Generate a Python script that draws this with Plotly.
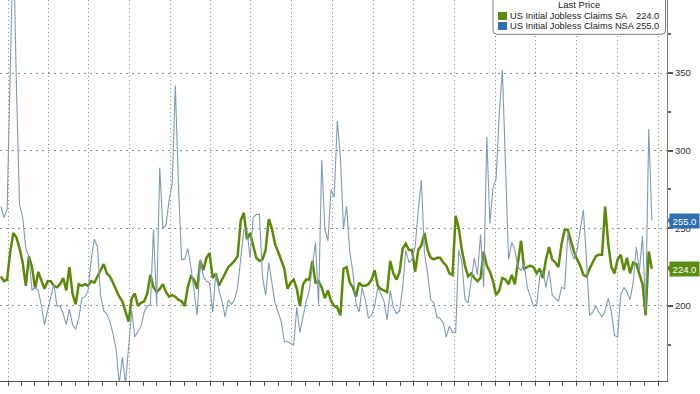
import plotly.graph_objects as go
import pandas as pd

# ---------------- data (weekly initial jobless claims, thousands) ----------------
last_release = "2025-12-18"
series_names = ["US Initial Jobless Claims SA", "US Initial Jobless Claims NSA"]
legend_header = "Last Price"

sa_values = [
    219, 216, 217, 235, 247, 244, 237, 228, 213, 232,
    225, 211, 222, 216, 211, 216, 216, 213, 212, 214,
    218, 210, 225, 208, 201, 214, 213, 214, 213, 216,
    215, 219, 223, 227, 221, 219, 215, 210, 206, 203,
    196, 190, 205, 208, 200, 202, 203, 208, 220, 212,
    209, 211, 214, 209, 206, 207, 206, 204, 203, 200,
    212, 219, 217, 211, 229, 223, 231, 234, 218, 221,
    213, 217, 221, 225, 227, 229, 232, 255, 260, 243,
    247, 238, 231, 229, 230, 236, 256, 250, 240, 235,
    229, 224, 211, 215, 217, 211, 200, 214, 217, 217,
    229, 215, 216, 212, 205, 210, 203, 200, 199, 194,
    224, 225, 215, 212, 206, 215, 213, 213, 214, 217,
    223, 213, 211, 210, 209, 229, 221, 217, 222, 237,
    240, 236, 236, 222, 236, 239, 247, 236, 231, 230,
    231, 231, 228, 226, 221, 220, 258, 250, 236, 226,
    219, 221, 218, 216, 218, 235, 226, 222, 216, 207,
    210, 218, 217, 214, 220, 214, 229, 242, 224, 225,
    226, 225, 221, 224, 218, 230, 238, 230, 228, 225,
    240, 249, 249, 242, 235, 230, 226, 220, 219, 224,
    228, 232, 233, 233, 264, 240, 225, 221, 230, 233,
    223, 231, 221, 228, 227, 221, 214, 194, 235, 224,
]

nsa_values = [
    264, 257, 262, 344, 440, 340, 265, 257, 237, 232,
    210, 212, 210, 200, 188, 197, 205, 214, 200, 200,
    195, 188, 198, 188, 185, 192, 205, 206, 210, 230,
    243, 238, 207, 197, 195, 190, 182, 172, 150, 167,
    150, 174, 197, 180, 184, 187, 196, 200, 201, 249,
    201, 289, 250, 252, 268, 279, 342, 278, 230, 230,
    237, 225, 210, 194, 230, 219, 216, 215, 196, 221,
    210, 203, 193, 204, 201, 204, 212, 232, 249, 249,
    231, 257, 259, 259, 219, 207, 228, 215, 202, 196,
    190, 177, 177, 176, 175, 199, 183, 193, 203, 210,
    225, 241, 201, 294, 250, 242, 275, 270, 319, 296,
    250, 264, 235, 222, 202, 196, 212, 204, 192, 194,
    200, 212, 208, 203, 191, 210, 199, 195, 197, 212,
    236, 228, 230, 238, 262, 281, 234, 221, 204, 202,
    193, 192, 189, 180, 187, 183, 183, 236, 228, 204,
    202, 215, 231, 220, 246, 212, 309, 253, 276, 282,
    324, 352, 295, 230, 241, 236, 225, 223, 227, 212,
    206, 200, 200, 219, 223, 212, 223, 207, 205, 203,
    212, 211, 246, 236, 230, 236, 249, 262, 230, 194,
    196, 200, 196, 193, 197, 205, 196, 181, 180, 207,
    212, 209, 204, 215, 238, 223, 245, 197, 314, 255,
]

y_tick_values = [200, 250, 300, 350]

dates = pd.date_range(end=last_release, periods=len(sa_values), freq="7D")

# ---------------- styling ----------------
SA_LINE = "#5a8a06"
NSA_LINE = "#7d9bb8"
SA_BOX = "#5d8d10"
NSA_BOX = "#316fb0"
FONT = "Liberation Sans, Arial, sans-serif"

W, H = 700, 394
ML, MR, MT, MB = 0, 33, 0, 13
PW, PH = W - ML - MR, H - MT - MB
Y_RANGE = [151.7, 397.0]


def xp(px):
    return (px - ML) / PW


def yp(py):
    return 1 - (py - MT) / PH


def yval_to_paper(v):
    return (v - Y_RANGE[0]) / (Y_RANGE[1] - Y_RANGE[0])


fig = go.Figure()
fig.add_trace(go.Scatter(x=dates, y=sa_values, mode="lines", name=series_names[0],
                         line=dict(color=SA_LINE, width=2.5), showlegend=False))
fig.add_trace(go.Scatter(x=dates, y=nsa_values, mode="lines", name=series_names[1],
                         line=dict(color=NSA_LINE, width=1.1), showlegend=False))

fig.update_layout(
    width=W, height=H,
    margin=dict(l=ML, r=MR, t=MT, b=MB),
    paper_bgcolor="white", plot_bgcolor="white",
    font=dict(family=FONT, size=9, color="#333333"),
    hovermode=False,
)

fig.update_xaxes(
    type="date", range=["2021-12-14", "2026-01-21"],
    dtick="M3", tick0="2022-01-01",
    showgrid=True, gridcolor="#8e8e8e", gridwidth=1, griddash="1px,3px",
    ticks="outside", ticklen=4, tickcolor="#555555",
    showticklabels=False, showline=True, linecolor="#555555", linewidth=1,
    zeroline=False, automargin=False,
    minor=dict(dtick="M1", ticks="outside", ticklen=4, tickcolor="#555555", showgrid=False),
)

fig.update_yaxes(
    side="right", range=Y_RANGE,
    tickmode="array", tickvals=y_tick_values,
    showgrid=True, gridcolor="#8e8e8e", gridwidth=1, griddash="2px,4px",
    ticks="outside", ticklen=5, tickwidth=1.5, tickcolor="#555555",
    tickfont=dict(family=FONT, size=9.5, color="#333333"),
    ticklabelstandoff=0,
    showline=True, linecolor="#7f7f6c", linewidth=1,
    zeroline=False, automargin=False,
    minor=dict(dtick=25, tick0=0, ticks="outside", ticklen=3, tickcolor="#666666", showgrid=False),
)

shapes = []
annotations = []

# last-value boxes on the right axis
for val, box in [(nsa_values[-1], NSA_BOX), (sa_values[-1], SA_BOX)]:
    yc = yval_to_paper(val)
    dy = 5 / PH
    shapes.append(dict(type="path", xref="paper", yref="paper",
                       path=f"M {xp(667.5)},{yc} L {xp(671)},{yc + dy} L {xp(671)},{yc - dy} Z",
                       fillcolor=box, line=dict(width=0), layer="above"))
    annotations.append(dict(x=xp(700), xref="paper", y=yc, yref="paper",
                            text=f"{val:.1f}", showarrow=False, xanchor="right", yanchor="middle",
                            bgcolor=box, borderpad=1, width=27, height=12, align="center",
                            font=dict(family=FONT, size=9.5, color="white")))

# legend box (rounded)
x0, x1, y0, y1 = xp(493), xp(665.5), yp(34.3), yp(-3)
rx, ry = 4 / PW, 4 / PH
legend_path = (f"M {x0 + rx},{y0} L {x1 - rx},{y0} Q {x1},{y0} {x1},{y0 + ry} "
               f"L {x1},{y1} L {x0},{y1} L {x0},{y0 + ry} Q {x0},{y0} {x0 + rx},{y0} Z")
shapes.append(dict(type="path", xref="paper", yref="paper", path=legend_path,
                   fillcolor="white", line=dict(color="#7a7a7a", width=1), layer="above"))

annotations.append(dict(x=xp(579), xref="paper", y=yp(4.0), yref="paper", text=legend_header,
                        showarrow=False, xanchor="center", yanchor="middle",
                        font=dict(family=FONT, size=9.5, color="#222222")))

rows = [(series_names[0], sa_values[-1], SA_BOX, 16.0),
        (series_names[1], nsa_values[-1], NSA_BOX, 26.0)]
for name, val, col, cy in rows:
    shapes.append(dict(type="rect", xref="paper", yref="paper",
                       x0=xp(498), x1=xp(507), y0=yp(cy + 4), y1=yp(cy - 4),
                       fillcolor=col, line=dict(width=0), layer="above"))
    annotations.append(dict(x=xp(507.5), xref="paper", y=yp(cy), yref="paper", text=name,
                            showarrow=False, xanchor="left", yanchor="middle",
                            font=dict(family=FONT, size=9.3, color="#222222")))
    annotations.append(dict(x=xp(661), xref="paper", y=yp(cy), yref="paper", text=f"{val:.1f}",
                            showarrow=False, xanchor="right", yanchor="middle",
                            font=dict(family=FONT, size=9.3, color="#222222")))

fig.update_layout(shapes=shapes, annotations=annotations)

fig.write_html("out.html", config={"displayModeBar": False},
               post_script="document.body.style.margin='0px';")
